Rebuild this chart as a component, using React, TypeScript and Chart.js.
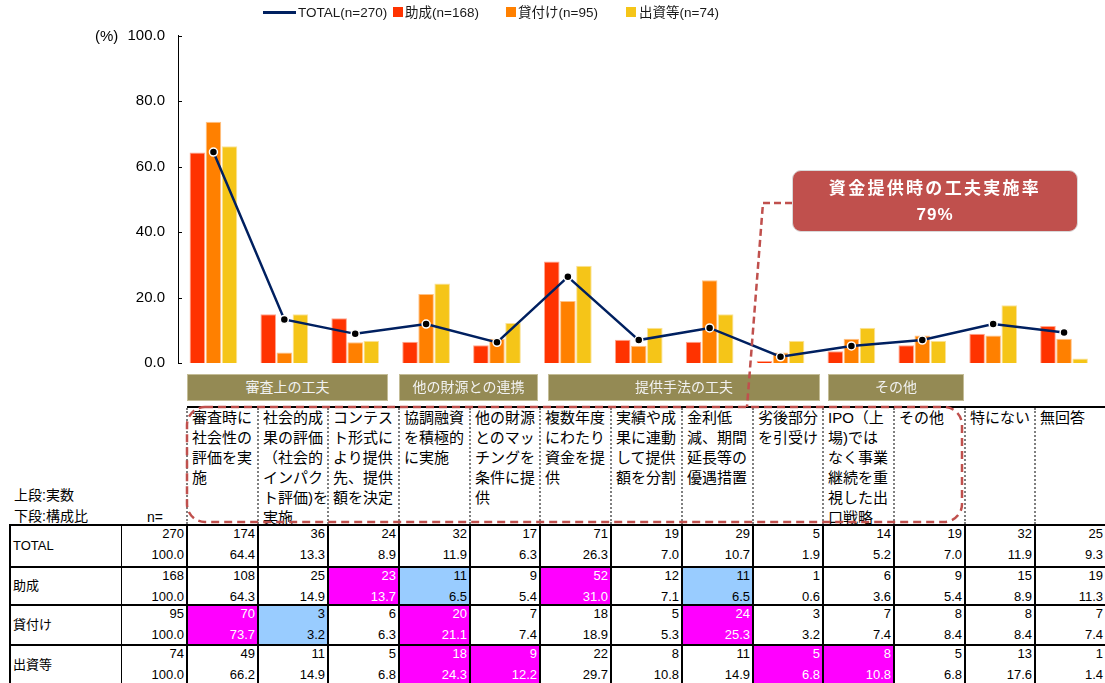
import React, { useEffect, useRef } from 'react';
import { Chart, registerables } from 'chart.js';

Chart.register(...registerables);

// ---------- data ----------
const categories = [
  '審査時に\n社会性の\n評価を実\n施',
  '社会的成\n果の評価\n（社会的\nインパク\nト評価)を\n実施',
  'コンテス\nト形式に\nより提供\n先、提供\n額を決定',
  '協調融資\nを積極的\nに実施',
  '他の財源\nとのマッ\nチングを\n条件に提\n供',
  '複数年度\nにわたり\n資金を提\n供',
  '実績や成\n果に連動\nして提供\n額を分割',
  '金利低\n減、期間\n延長等の\n優遇措置',
  '劣後部分\nを引受け',
  'IPO（上\n場)では\nなく事業\n継続を重\n視した出\n口戦略',
  'その他',
  '特にない',
  '無回答',
];
const seriesNames = ['TOTAL', '助成', '貸付け', '出資等'];
const sampleSizes = [270, 168, 95, 74];

const totalCounts = [174, 36, 24, 32, 17, 71, 19, 29, 5, 14, 19, 32, 25];
const totalPct = [64.4, 13.3, 8.9, 11.9, 6.3, 26.3, 7.0, 10.7, 1.9, 5.2, 7.0, 11.9, 9.3];
const grantCounts = [108, 25, 23, 11, 9, 52, 12, 11, 1, 6, 9, 15, 19];
const grantPct = [64.3, 14.9, 13.7, 6.5, 5.4, 31.0, 7.1, 6.5, 0.6, 3.6, 5.4, 8.9, 11.3];
const loanCounts = [70, 3, 6, 20, 7, 18, 5, 24, 3, 7, 8, 8, 7];
const loanPct = [73.7, 3.2, 6.3, 21.1, 7.4, 18.9, 5.3, 25.3, 3.2, 7.4, 8.4, 8.4, 7.4];
const equityCounts = [49, 11, 5, 18, 9, 22, 8, 11, 5, 8, 5, 13, 1];
const equityPct = [66.2, 14.9, 6.8, 24.3, 12.2, 29.7, 10.8, 14.9, 6.8, 10.8, 6.8, 17.6, 1.4];

// significance vs TOTAL: '+' higher, '-' lower
const totalFlags = ['', '', '', '', '', '', '', '', '', '', '', '', ''];
const grantFlags = ['', '', '+', '-', '', '+', '', '-', '', '', '', '', ''];
const loanFlags = ['+', '-', '', '+', '', '', '', '+', '', '', '', '', ''];
const equityFlags = ['', '', '', '+', '+', '', '', '', '+', '+', '', '', ''];

const groupNames = ['審査上の工夫', '他の財源との連携', '提供手法の工夫', 'その他'];
const yTicks = [0, 20, 40, 60, 80, 100];
const calloutTitle = '資金提供時の工夫実施率';
const calloutValue = '79%';
const rowNoteTop = '上段:実数';
const rowNoteBottom = '下段:構成比';

// ---------- styles ----------
const LATIN = '"Liberation Sans", Arial, "Noto Sans CJK JP", sans-serif';
const NAVY = '#002060';
const RED = '#FF3300';
const ORANGE = '#FF8000';
const YELLOW = '#F5C518';
const CALLOUT = '#C0504D';
const OLIVE = '#948A54';

const COL0 = 187;
const COLW = 70.69;
const colLeft = (i: number) => Math.round(COL0 + i * COLW);
const rowTops = [525, 567, 605, 645, 685];
const groupBoxes = [
  [187, 388],
  [399, 538],
  [548, 820],
  [828, 964],
];

export default function App() {
  const canvasRef = useRef<HTMLCanvasElement>(null);

  useEffect(() => {
    const canvas = canvasRef.current;
    if (!canvas) return;
    const innerTicks = {
      id: 'innerTicks',
      afterDraw(chart: any) {
        const { ctx, chartArea, scales } = chart;
        const y = scales.y;
        ctx.save();
        ctx.strokeStyle = '#000';
        ctx.lineWidth = 1;
        y.ticks.forEach((t: any) => {
          const py = Math.round(y.getPixelForValue(t.value)) + 0.5;
          ctx.beginPath();
          ctx.moveTo(chartArea.left, py);
          ctx.lineTo(chartArea.left + 4, py);
          ctx.stroke();
        });
        ctx.restore();
      },
    };
    const chart = new Chart(canvas, {
      type: 'bar',
      data: {
        labels: categories.map((c) => c.replace(/\n/g, '')),
        datasets: [
          {
            type: 'line',
            label: `${seriesNames[0]}(n=${sampleSizes[0]})`,
            data: totalPct,
            borderColor: NAVY,
            borderWidth: 2.5,
            pointRadius: 4,
            pointBackgroundColor: '#000',
            pointBorderColor: '#fff',
            pointBorderWidth: 1.5,
            tension: 0,
            order: 0,
          } as any,
          {
            label: `${seriesNames[1]}(n=${sampleSizes[1]})`,
            data: grantPct,
            backgroundColor: RED,
            borderColor: '#FFA58C',
            borderWidth: 1,
            order: 1,
          },
          {
            label: `${seriesNames[2]}(n=${sampleSizes[2]})`,
            data: loanPct,
            backgroundColor: ORANGE,
            borderColor: '#FFC285',
            borderWidth: 1,
            order: 1,
          },
          {
            label: `${seriesNames[3]}(n=${sampleSizes[3]})`,
            data: equityPct,
            backgroundColor: YELLOW,
            borderColor: '#FAE29A',
            borderWidth: 1,
            order: 1,
          },
        ],
      },
      options: {
        responsive: false,
        animation: false,
        layout: { padding: { top: 35.5, bottom: 12, left: 0, right: 0 } },
        plugins: { legend: { display: false }, tooltip: { enabled: false } },
        datasets: { bar: { categoryPercentage: 0.68, barPercentage: 0.97 } },
        scales: {
          x: { display: false, offset: true, grid: { display: false } },
          y: {
            min: 0,
            max: 100,
            afterBuildTicks: (s: any) => {
              s.ticks = yTicks.map((v) => ({ value: v }));
            },
            afterFit: (s: any) => {
              s.width = 178;
            },
            ticks: {
              callback: (v: any) => Number(v).toFixed(1),
              font: { family: 'Liberation Sans', size: 15 },
              color: '#000',
              padding: 2,
            },
            grid: { display: false, drawTicks: true, tickLength: 11 },
            border: { display: true, color: '#000', width: 1 },
          },
        },
      } as any,
      plugins: [innerTicks],
    });
    return () => chart.destroy();
  }, []);

  const rows = [
    { name: seriesNames[0], n: sampleSizes[0], counts: totalCounts, pct: totalPct, flags: totalFlags },
    { name: seriesNames[1], n: sampleSizes[1], counts: grantCounts, pct: grantPct, flags: grantFlags },
    { name: seriesNames[2], n: sampleSizes[2], counts: loanCounts, pct: loanPct, flags: loanFlags },
    { name: seriesNames[3], n: sampleSizes[3], counts: equityCounts, pct: equityPct, flags: equityFlags },
  ];

  const legendItems = [
    { kind: 'line', color: NAVY, sx: 263, sw: 33, tx: 298, text: `${seriesNames[0]}(n=${sampleSizes[0]})` },
    { kind: 'box', color: RED, sx: 393, sw: 10, tx: 405, text: `${seriesNames[1]}(n=${sampleSizes[1]})` },
    { kind: 'box', color: ORANGE, sx: 506, sw: 10, tx: 518, text: `${seriesNames[2]}(n=${sampleSizes[2]})` },
    { kind: 'box', color: YELLOW, sx: 626, sw: 10, tx: 639, text: `${seriesNames[3]}(n=${sampleSizes[3]})` },
  ];

  const abs = (s: React.CSSProperties): React.CSSProperties => ({ position: 'absolute', ...s });

  const numCell = (key: string, left: number, right: number, top: number, bottom: number, a: string, b: string, flag: string) => {
    const bg = flag === '+' ? '#FF00FF' : flag === '-' ? '#99CCFF' : 'transparent';
    const color = flag === '+' ? '#fff' : '#000';
    return (
      <div key={key} style={abs({ left, top, width: right - left, height: bottom - top, background: bg })}>
        <div style={abs({ right: 3, top: -1, height: 20, lineHeight: '20px', fontSize: 13, color, whiteSpace: 'nowrap' })}>{a}</div>
        <div style={abs({ right: 3, top: 20, height: 20, lineHeight: '20px', fontSize: 13, color, whiteSpace: 'nowrap' })}>{b}</div>
      </div>
    );
  };

  return (
    <div style={abs({ left: 0, top: 0, width: 1105, height: 683, overflow: 'hidden', background: '#fff', fontFamily: LATIN, color: '#000' })}>
      <canvas ref={canvasRef} width={1105} height={375} style={abs({ left: 0, top: 0, width: 1105, height: 375 })} />

      {/* legend */}
      {legendItems.map((it, i) => (
        <React.Fragment key={'lg' + i}>
          {it.kind === 'line' ? (
            <div style={abs({ left: it.sx, top: 11, width: it.sw, height: 3, background: it.color })} />
          ) : (
            <div style={abs({ left: it.sx, top: 7, width: it.sw, height: 10, background: it.color })} />
          )}
          <div style={abs({ left: it.tx, top: 3, height: 19, lineHeight: '19px', fontSize: 13.5, color: '#1a1a1a', whiteSpace: 'nowrap' })}>{it.text}</div>
        </React.Fragment>
      ))}

      {/* unit */}
      <div style={abs({ left: 95, top: 26, height: 19, lineHeight: '19px', fontSize: 15 })}>(%)</div>

      {/* group boxes */}
      {groupNames.map((g, i) => (
        <div
          key={'g' + i}
          style={abs({
            left: groupBoxes[i][0],
            top: 374,
            width: groupBoxes[i][1] - groupBoxes[i][0],
            height: 27,
            boxSizing: 'border-box',
            background: OLIVE,
            border: '1px solid #C4BD97',
            color: '#F2F2F2',
            fontSize: 14,
            lineHeight: '25px',
            textAlign: 'center',
            whiteSpace: 'nowrap',
          })}
        >
          {g}
        </div>
      ))}

      {/* header */}
      <div style={abs({ left: COL0, top: 406, width: 1105 - COL0, height: 2, background: '#000' })} />
      {categories.map((c, i) => (
        <div
          key={'h' + i}
          style={abs({
            left: colLeft(i) + 5,
            top: 408,
            width: colLeft(i + 1) - colLeft(i) - 5,
            fontSize: 15,
            lineHeight: '20px',
            whiteSpace: 'pre',
          })}
        >
          {c}
        </div>
      ))}
      {categories.map((_, i) => (
        <div key={'hv' + i} style={abs({ left: colLeft(i) - 1, top: 408, width: 0, height: 116, borderLeft: '2px dotted #7F7F7F' })} />
      ))}
      <div style={abs({ left: colLeft(13) - 1, top: 408, width: 0, height: 116, borderLeft: '2px dotted #7F7F7F' })} />

      <div style={abs({ left: 14, top: 485, height: 20, lineHeight: '20px', fontSize: 14, whiteSpace: 'nowrap' })}>{rowNoteTop}</div>
      <div style={abs({ left: 14, top: 506, height: 20, lineHeight: '20px', fontSize: 14, whiteSpace: 'nowrap' })}>{rowNoteBottom}</div>
      <div style={abs({ left: 147, top: 507, height: 20, lineHeight: '20px', fontSize: 14 })}>n=</div>

      {/* data rows */}
      {rows.map((row, r) => {
        const top = rowTops[r];
        const bottom = rowTops[r + 1];
        return (
          <React.Fragment key={'r' + r}>
            <div style={abs({ left: 13, top, height: bottom - top, lineHeight: `${bottom - top}px`, fontSize: 13, whiteSpace: 'nowrap' })}>{row.name}</div>
            {numCell('n' + r, 122, COL0, top, bottom, String(row.n), (100).toFixed(1), '')}
            {row.counts.map((cnt, i) =>
              numCell(`c${r}-${i}`, colLeft(i), colLeft(i + 1), top, bottom, String(cnt), row.pct[i].toFixed(1), row.flags[i])
            )}
          </React.Fragment>
        );
      })}
      {rowTops.slice(0, 4).map((y, i) => (
        <div key={'hl' + i} style={abs({ left: 10, top: y - 1, width: 1095, height: 2, background: '#000' })} />
      ))}
      <div style={abs({ left: 9, top: 524, width: 2, height: 160, background: '#000' })} />
      <div style={abs({ left: 121, top: 524, width: 1, height: 160, background: '#000' })} />
      {categories.map((_, i) => (
        <div key={'vl' + i} style={abs({ left: colLeft(i) - 1, top: 524, width: 2, height: 160, background: '#000' })} />
      ))}

      {/* dashed annotations */}
      <svg width={1105} height={683} style={abs({ left: 0, top: 0, pointerEvents: 'none' })}>
        <rect x={187} y={407} width={775} height={115} rx={18} ry={18} fill="none" stroke={CALLOUT} strokeWidth={2.5} strokeDasharray="8 5" />
        <polyline points="792,203 763,203 747,407" fill="none" stroke={CALLOUT} strokeWidth={2.5} strokeDasharray="7 4" />
      </svg>

      {/* callout */}
      <div
        style={abs({
          left: 792,
          top: 170,
          width: 286,
          height: 62,
          boxSizing: 'border-box',
          background: CALLOUT,
          border: '1px solid #D9D9D9',
          borderRadius: 9,
          color: '#fff',
          fontWeight: 'bold',
          textAlign: 'center',
        })}
      >
        <div style={abs({ left: 0, right: 0, top: 7, height: 22, lineHeight: '22px', fontSize: 17, letterSpacing: 2.3, whiteSpace: 'nowrap' })}>{calloutTitle}</div>
        <div style={abs({ left: 0, right: 0, top: 33, height: 22, lineHeight: '22px', fontSize: 17, letterSpacing: 1, whiteSpace: 'nowrap' })}>{calloutValue}</div>
      </div>
    </div>
  );
}
